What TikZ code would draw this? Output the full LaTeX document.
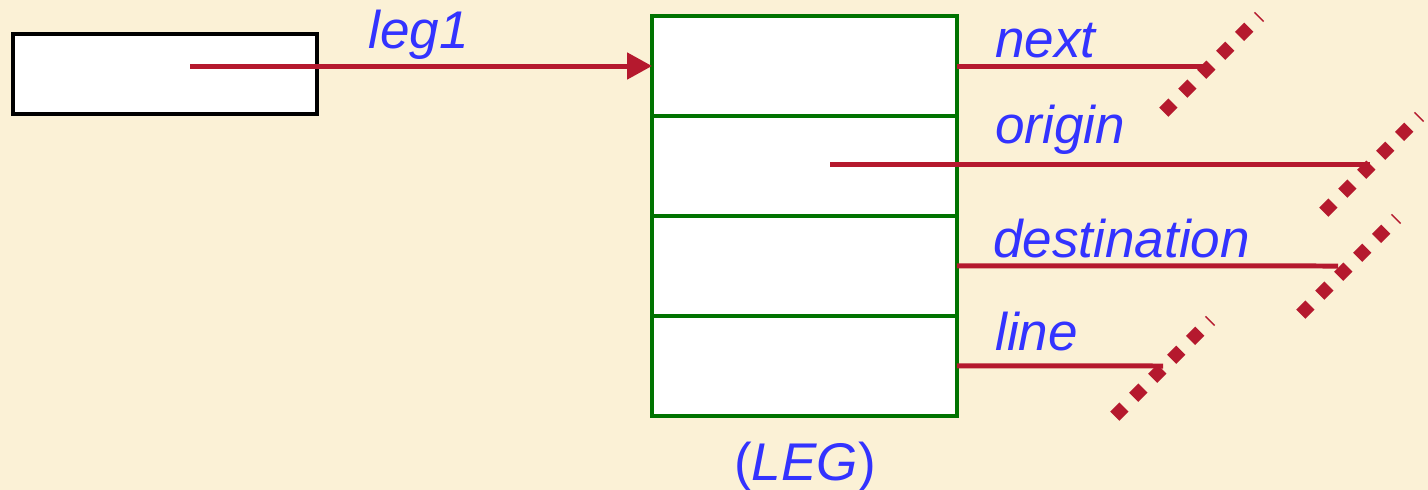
\documentclass[tikz,border=0pt]{standalone}
\usepackage{fontspec}
\setmainfont{Liberation Sans}
\usetikzlibrary{arrows.meta,positioning}

\definecolor{parchment}{RGB}{251,241,214}
\definecolor{ptrred}{RGB}{181,25,46}
\definecolor{fieldgreen}{RGB}{0,115,0}
\definecolor{lblblue}{RGB}{51,51,255}

\begin{document}
\begin{tikzpicture}[x=0.02cm,y=-0.02cm,
  field/.style={draw=fieldgreen,line width=0.08cm,fill=white,outer sep=0pt,
    minimum width=6.1cm,minimum height=2cm,inner sep=0pt},
  ptr/.style={draw=ptrred,line width=0.1cm},
  cutmark/.style={draw=ptrred,line width=0.26cm,dash pattern=on 0.26cm off 0.276cm},
  lbl/.style={text=lblblue,inner sep=0pt,anchor=base west,
    font=\fontsize{30.2}{36}\selectfont\itshape}]
\fill[parchment] (0,0) rectangle (1428,490);
\useasboundingbox (0,0) rectangle (1428,490);

% variable holding the pointer
\node[draw=black,line width=0.08cm,fill=white,minimum width=6.1cm,minimum height=1.6cm] (var) at (165,74) {};

% record with four fields
\node[field] (next) at (804.5,66) {};
\node[field,below=0pt of next] (origin) {};
\node[field,below=0pt of origin] (destination) {};
\node[field,below=0pt of destination] (line) {};

\node[lbl] (leg1lbl) at (368,49) {leg1};
\node[lbl] (nextlbl) at (995,57) {next};
\node[lbl] (originlbl) at (995,143) {origin};
\node[lbl] (destlbl) at (993,257) {destination};
\node[lbl] (linelbl) at (995,350) {line};
\node[lbl,anchor=base] (legname) at (805,480) {\upshape(\textit{LEG})};

\coordinate (legptr) at (190,66);
\coordinate (originptr) at (830,164);
\coordinate (nextend) at (1208,66);
\coordinate (originend) at (1370,164);
\coordinate (destend) at (1338,266);
\coordinate (lineend) at (1163,366);

\draw[ptr,-{Triangle[length=0.5cm,width=0.52cm]}] (legptr) -- (next.west);
\draw[ptr] (next.east) -- (nextend);
\draw[ptr] (originptr) -- (originend);
\draw[ptr] (destination.east) -- (destend);
\draw[ptr] (line.east) -- (lineend);

% broken-off ends
\draw[cutmark] (1163.8,112.2) -- ++(95.8,-95.8);
\draw[cutmark] (1323.8,212.2) -- ++(95.8,-95.8);
\draw[cutmark] (1300.8,314.2) -- ++(95.8,-95.8);
\draw[cutmark] (1114.8,416.2) -- ++(95.8,-95.8);
\end{tikzpicture}
\end{document}
